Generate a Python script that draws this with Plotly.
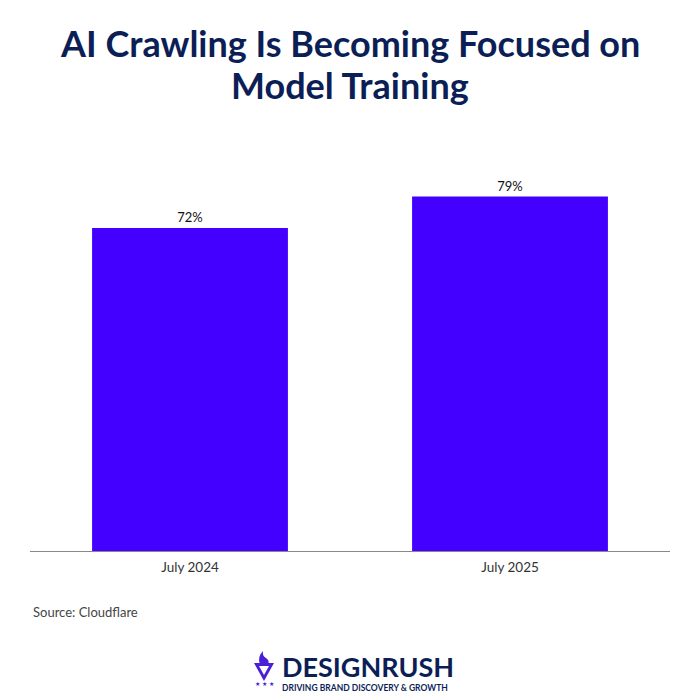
import plotly.graph_objects as go

categories = ["July 2024", "July 2025"]
values = [72, 79]
labels = ["72%", "79%"]

# The page adds an 8px body margin, so the figure is 684 px and reference
# pixel coordinates are offset by 8.
OFF = 8
W, H = 684, 684
ML, MR, MT, MB = 22, 22, 142, 141
PW, PH = W - ML - MR, H - MT - MB

def px(x):
    return (x - OFF - ML) / PW

def py(y):
    return (H - MB - (y - OFF)) / PH

fig = go.Figure()
fig.add_trace(go.Bar(
    x=categories, y=values, text=labels, textposition="outside",
    marker=dict(color="#4400ff", line=dict(width=0)),
    textfont=dict(family="Lato, sans-serif", size=13, color="#111111"),
    cliponaxis=False, width=0.612,
))

title_col = "#0b1f56"
for txt, yy in [("AI Crawling Is Becoming Focused on", 43), ("Model Training", 85)]:
    fig.add_annotation(text=f"<b>{txt}</b>",
                       x=0.5, xref="paper", y=py(yy), yref="paper", yanchor="middle",
                       showarrow=False, align="center",
                       font=dict(family="Lato, sans-serif", size=36, color=title_col))

fig.add_annotation(text="Source: Cloudflare", x=px(31), xref="paper", xanchor="left",
                   y=py(612), yref="paper", yanchor="middle", showarrow=False,
                   font=dict(family="Lato, sans-serif", size=13, color="#444444"))

# logo text
fig.add_annotation(text="<b>DESIGNRUSH</b>", x=px(280), xref="paper", xanchor="left",
                   y=py(666), yref="paper", yanchor="middle", showarrow=False,
                   font=dict(family="Lato, sans-serif", size=27, color=title_col))
fig.add_annotation(text="<b>DRIVING BRAND DISCOVERY &amp; GROWTH</b>", x=px(280), xref="paper", xanchor="left",
                   y=py(688), yref="paper", yanchor="middle", showarrow=False,
                   font=dict(family="Lato, sans-serif", size=8.5, color=title_col))

# logo icon
def pt(x, y):
    return f"{px(x)},{py(y)}"

purple = "#4a1fd6"
fig.add_shape(type="path", xref="paper", yref="paper",
              path=f"M {pt(254,663)} L {pt(274,663)} L {pt(264,681)} Z",
              fillcolor=purple, line=dict(width=0))
fig.add_shape(type="path", xref="paper", yref="paper",
              path=f"M {pt(260,664)} Q {pt(257,657)} {pt(263,651)} Q {pt(262,656)} {pt(266,658)} Q {pt(270,661)} {pt(268,664)} Z",
              fillcolor=purple, line=dict(width=0))
fig.add_shape(type="path", xref="paper", yref="paper",
              path=f"M {pt(259,666)} L {pt(269,666)} L {pt(264,675)} Z",
              fillcolor="white", line=dict(width=0))
for sx in [257, 264, 271]:
    fig.add_annotation(text="★", x=px(sx), xref="paper", y=py(690), yref="paper",
                       showarrow=False, font=dict(size=6, color=purple))

fig.update_layout(
    width=W, height=H, margin=dict(l=ML, r=MR, t=MT, b=MB),
    plot_bgcolor="white", paper_bgcolor="white", showlegend=False,
    xaxis=dict(showline=True, linecolor="#888888", linewidth=1, ticks="",
               ticklabelstandoff=4,
               tickfont=dict(family="Lato, sans-serif", size=13.5, color="#333333"),
               showgrid=False),
    yaxis=dict(range=[0, PH / 4.486], visible=False, showgrid=False),
)

fig.write_html("out.html")
